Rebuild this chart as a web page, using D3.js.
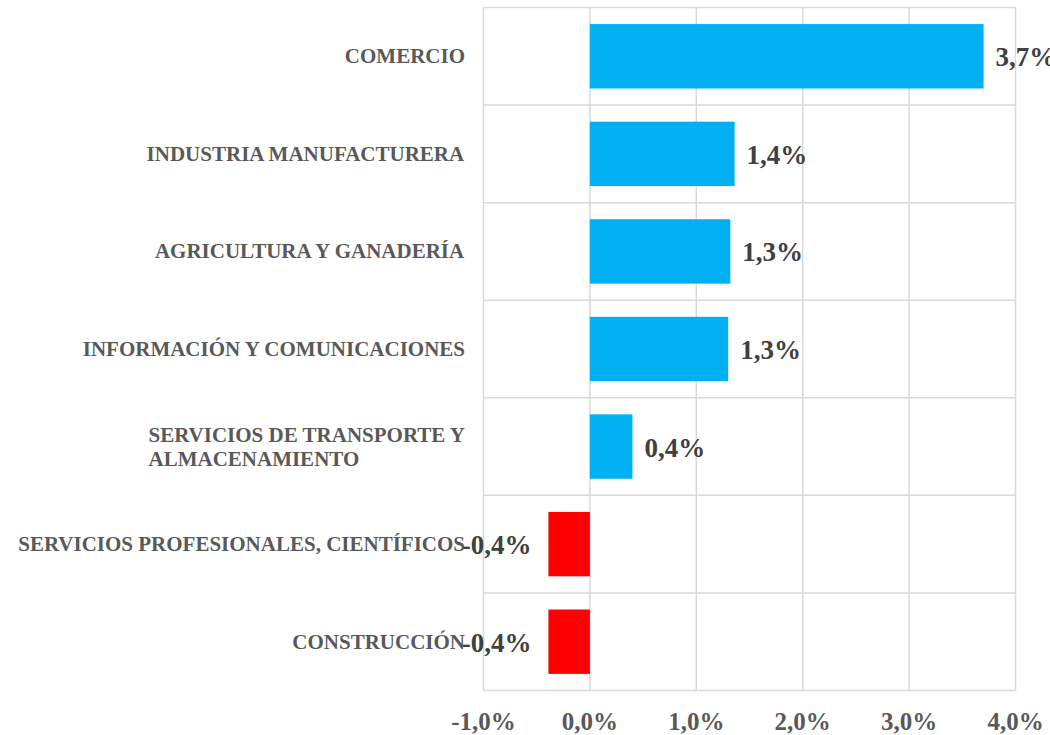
<!DOCTYPE html>
<html>
<head>
<meta charset="utf-8">
<script src="https://cdn.jsdelivr.net/npm/d3@7"></script>
<style>
  body { margin: 0; background: #fff; }
  svg { display: block; font-family: 'Liberation Serif', 'Times New Roman', serif; font-weight: bold; }
</style>
</head>
<body>
<div id="chart"></div>
<script>
const categories = [
  ['COMERCIO'],
  ['INDUSTRIA MANUFACTURERA'],
  ['AGRICULTURA Y GANADERÍA'],
  ['INFORMACIÓN Y COMUNICACIONES'],
  ['SERVICIOS DE TRANSPORTE Y', 'ALMACENAMIENTO'],
  ['SERVICIOS PROFESIONALES, CIENTÍFICOS'],
  ['CONSTRUCCIÓN']
];
const values = [3.7, 1.36, 1.32, 1.30, 0.40, -0.39, -0.39];
const tickValues = [-1, 0, 1, 2, 3, 4];

const width = 1050;
const height = 735;
const plot = { left: 483.5, right: 1015.5, top: 7.5, bottom: 690.5 };

const fmt = v => d3.format('.1f')(v).replace('.', ',').replace('−', '-') + '%';

const x = d3.scaleLinear()
  .domain([-1, 4])
  .range([plot.left, plot.right]);

const y = d3.scaleBand()
  .domain(d3.range(categories.length))
  .range([plot.top, plot.bottom])
  .paddingInner(0.34)
  .paddingOuter(0.17);

const svg = d3.select('#chart')
  .append('svg')
  .attr('width', width)
  .attr('height', height);

// vertical gridlines
svg.append('g')
  .selectAll('line')
  .data(tickValues)
  .enter().append('line')
    .attr('x1', d => x(d)).attr('x2', d => x(d))
    .attr('y1', plot.top).attr('y2', plot.bottom)
    .attr('stroke', '#d9d9d9')
    .attr('stroke-width', 1.5);

// horizontal separators between categories
const seps = d3.range(categories.length + 1).map(i => plot.top + i * (plot.bottom - plot.top) / categories.length);
svg.append('g')
  .selectAll('line')
  .data(seps)
  .enter().append('line')
    .attr('x1', plot.left).attr('x2', plot.right)
    .attr('y1', d => d).attr('y2', d => d)
    .attr('stroke', '#d9d9d9')
    .attr('stroke-width', 1.5);

// bars
svg.append('g')
  .selectAll('rect')
  .data(values)
  .enter().append('rect')
    .attr('x', d => x(Math.min(0, d)))
    .attr('width', d => Math.abs(x(d) - x(0)))
    .attr('y', (d, i) => y(i))
    .attr('height', y.bandwidth())
    .attr('fill', d => d < 0 ? '#ff0000' : '#00b0f0');

// value labels
svg.append('g')
  .selectAll('text')
  .data(values)
  .enter().append('text')
    .attr('x', d => d < 0 ? x(d) - 17 : x(d) + 12)
    .attr('y', (d, i) => y(i) + y.bandwidth() / 2 + 10)
    .attr('text-anchor', d => d < 0 ? 'end' : 'start')
    .style('font-size', '27px')
    .style('fill', '#404040')
    .text(d => fmt(d));

// category labels
const catG = svg.append('g')
  .selectAll('text')
  .data(categories)
  .enter().append('text')
    .style('font-size', '21px')
    .style('fill', '#595959')
    .attr('transform', (d, i) => `translate(0, ${y(i) + y.bandwidth() / 2})`);

catG.each(function(lines) {
  const t = d3.select(this);
  const lh = 24;
  const y0 = -(lines.length - 1) * lh / 2 + 7;
  lines.forEach((line, j) => {
    t.append('tspan').attr('x', 0).attr('y', y0 + j * lh).text(line);
  });
  const w = this.getBBox().width;
  t.selectAll('tspan').attr('x', 465 - w);
});

// x axis tick labels
svg.append('g')
  .selectAll('text')
  .data(tickValues)
  .enter().append('text')
    .attr('x', d => x(d))
    .attr('y', 730)
    .attr('text-anchor', 'middle')
    .style('font-size', '25px')
    .style('fill', '#595959')
    .text(d => fmt(d));
</script>
</body>
</html>
